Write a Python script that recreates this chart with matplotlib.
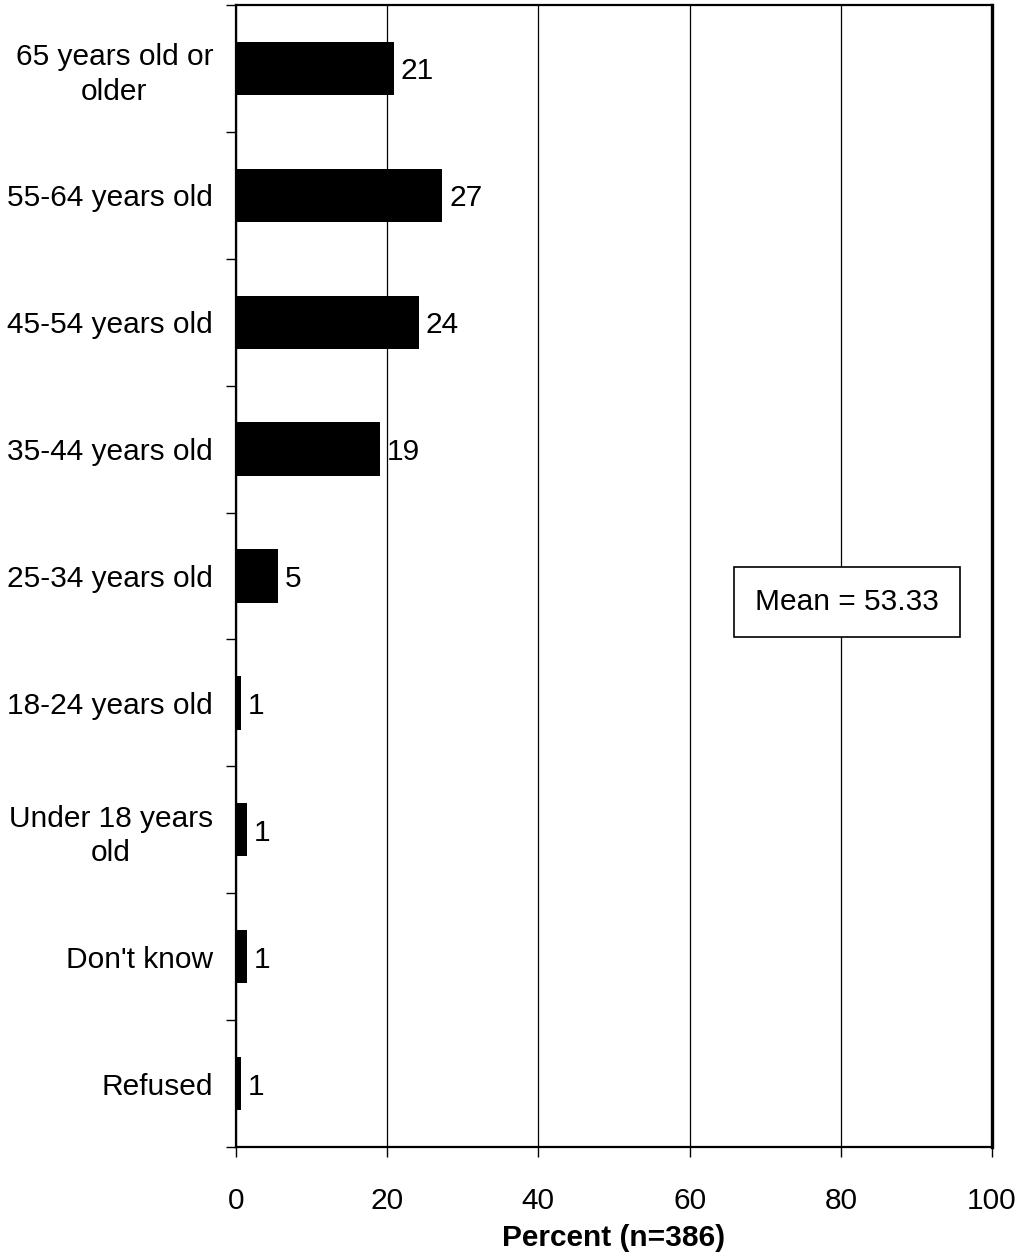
import numpy as np
import matplotlib.pyplot as plt

# Datos del grafico
categorias = ["65 years old or\nolder", "55-64 years old", "45-54 years old",
              "35-44 years old", "25-34 years old", "18-24 years old",
              "Under 18 years\nold", "Don't know", "Refused"]
porcentajes = [20.9, 27.3, 24.2, 19.1, 5.6, 0.7, 1.5, 1.5, 0.7]
etiquetas = ["21", "27", "24", "19", "5", "1", "1", "1", "1"]
XTICKS = [0, 20, 40, 60, 80, 100]
XLABEL = "Percent (n=386)"
MEDIA = "Mean = 53.33"

plt.rcParams['font.family'] = ['Liberation Sans', 'DejaVu Sans']
FS = 21.5

fig = plt.figure(figsize=(10.21, 12.59), dpi=100)
ax = fig.add_axes([0.2311, 0.0890, 0.7405, 0.9070])

y = np.arange(len(categorias))
ax.barh(y, porcentajes, height=0.42, color='black', zorder=3)
for yi, v, lab in zip(y, porcentajes, etiquetas):
    ax.text(v + 0.9, yi, lab, va='center_baseline', ha='left', fontsize=FS, zorder=4)

ax.set_xlim(0, 100)
ax.set_ylim(len(categorias) - 0.5, -0.5)
ax.set_xticks(XTICKS)
ax.set_xticklabels([str(t) for t in XTICKS], fontsize=FS)
ax.tick_params(axis='x', direction='out', length=7, width=1, pad=22)

ax.set_yticks(y)
ax.set_yticklabels(categorias, fontsize=FS, ha='right', multialignment='center',
                   linespacing=1.3)
ax.tick_params(axis='y', which='major', length=0, pad=16.5)
ax.set_yticks(np.arange(-0.5, len(categorias)), minor=True)
ax.tick_params(axis='y', which='minor', direction='out', length=7, width=1)

ax.xaxis.grid(True, color='black', linewidth=0.9, zorder=0)
ax.set_axisbelow(True)
for s in ['left', 'bottom', 'top']:
    ax.spines[s].set_linewidth(1.6)
ax.spines['right'].set_linewidth(2.4)

ax.set_xlabel(XLABEL, fontsize=FS, fontweight='bold', labelpad=6)

ax.text(0.808, 0.477, MEDIA, transform=ax.transAxes, ha='center', va='center',
        fontsize=FS, zorder=5,
        bbox=dict(boxstyle='square,pad=0.7', facecolor='white',
                  edgecolor='black', linewidth=1.2))

fig.savefig('out.png', dpi=100)
